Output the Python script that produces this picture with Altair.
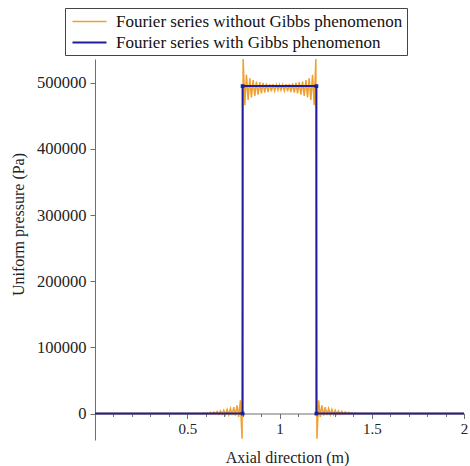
import altair as alt
import pandas as pd

S_OR = "Fourier series without Gibbs phenomenon"
S_BL = "Fourier series with Gibbs phenomenon"

# Orange (oscillating) series
orange_x = [0.000, 0.580, 0.590, 0.599, 0.608, 0.617, 0.626, 0.635, 0.644, 0.653,
            0.662, 0.671, 0.680, 0.689, 0.698, 0.707, 0.716, 0.725, 0.734, 0.743,
            0.752, 0.761, 0.770, 0.779, 0.788, 0.797,
            0.803, 0.812, 0.821, 0.830, 0.839, 0.848, 0.857, 0.866, 0.875, 0.884,
            0.893, 0.902, 0.911, 0.920, 0.929, 0.938, 0.947, 0.956, 0.965, 0.974,
            0.983, 0.992, 1.000,
            1.008, 1.017, 1.026, 1.035, 1.044, 1.053, 1.062, 1.071, 1.080, 1.089,
            1.098, 1.107, 1.116, 1.125, 1.134, 1.143, 1.152, 1.161, 1.170, 1.179,
            1.188, 1.197,
            1.203, 1.212, 1.221, 1.230, 1.239, 1.248, 1.257, 1.266, 1.275, 1.284,
            1.293, 1.302, 1.311, 1.320, 1.329, 1.338, 1.347, 1.356, 1.365, 1.374,
            1.383, 1.392, 1.401, 1.410, 1.420, 2.000]
orange_y = [0, 0, 600, -200, 1200, -300, 1800, -500, 2500, -700,
            3200, -900, 4000, -1100, 5000, -1400, 6200, -1800, 7600, -2300,
            9500, -3000, 12500, -5000, 20000, -38000,
            536000, 466000, 512000, 474000, 507000, 478000, 504000, 480000, 502000, 482000,
            501000, 484000, 500000, 485000, 499000, 486000, 498000, 487000, 498000, 488000,
            497000, 489000, 497000,
            489000, 497000, 488000, 498000, 487000, 498000, 486000, 499000, 485000, 500000,
            484000, 501000, 482000, 502000, 480000, 504000, 478000, 507000, 474000, 512000,
            466000, 536000,
            -38000, 20000, -5000, 12500, -3000, 9500, -2300, 7600, -1800, 6200,
            -1400, 5000, -1100, 4000, -900, 3200, -700, 2500, -500, 1800,
            -300, 1200, -200, 600, 0, 0]

# Blue (square pulse) series
blue_x = [0.0, 0.8, 0.8, 1.2, 1.2, 2.0]
blue_y = [0, 0, 495000, 495000, 0, 0]

x_minor_ticks = [0.1, 0.2, 0.3, 0.4, 0.6, 0.7, 0.8, 0.9,
                 1.1, 1.2, 1.3, 1.4, 1.6, 1.7, 1.8, 1.9]
x_major_ticks = [0.5, 1, 1.5, 2]
y_ticks = [0, 50000, 100000, 150000, 200000, 250000, 300000, 350000,
           400000, 450000, 500000]

df = pd.concat([
    pd.DataFrame({"x": orange_x, "y": orange_y, "series": S_OR,
                  "idx": range(len(orange_x))}),
    pd.DataFrame({"x": blue_x, "y": blue_y, "series": S_BL,
                  "idx": range(len(blue_x))}),
], ignore_index=True)

FONT = "Liberation Serif, Times New Roman, Times, serif"
AXC = "#6e6e6e"
TXT = "#222222"

xscale = alt.Scale(domain=[0, 2], nice=False, zero=False)
yscale = alt.Scale(domain=[-40000, 536000], nice=False, zero=False)

x_axis_major = alt.Axis(
    title="Axial direction (m)", values=x_major_ticks, grid=False, orient="bottom",
    offset=-26.5, domainColor=AXC, tickColor=AXC, tickSize=5,
    format="~g", labelOverlap=False,
    labelFont=FONT, labelFontSize=15, labelColor=TXT,
    labelPadding=3, labelFlush=False,
    titleFont=FONT, titleFontSize=16, titleFontWeight="normal",
    titleColor=TXT, titleX=192, titleY=44, titleBaseline="middle")

x_axis_minor = alt.Axis(
    title=None, values=x_minor_ticks, grid=False, labels=False, orient="bottom",
    offset=-26.5, domain=False, tickColor=AXC, tickSize=3)

y_axis = alt.Axis(
    title="Uniform pressure (Pa)", values=y_ticks, grid=False,
    domainColor=AXC, tickColor=AXC,
    tickSize={"condition": {"test": "datum.value % 100000 === 0", "value": 5},
              "value": 3},
    labelExpr="datum.value % 100000 === 0 ? format(datum.value, 'd') : ''",
    labelOverlap=False,
    labelFont=FONT, labelFontSize=16.5, labelColor=TXT,
    labelPadding=4, labelFlush=False,
    titleFont=FONT, titleFontSize=16, titleFontWeight="normal",
    titleColor=TXT, titleX=-77, titleY=165,
    titleBaseline="middle", titleAngle=270)

color_enc = alt.Color("series:N",
                      scale=alt.Scale(domain=[S_OR, S_BL], range=["#F0A030", "#1E1E96"]),
                      legend=alt.Legend(
                          title=None, orient="none", legendX=-30, legendY=-51,
                          strokeColor="#444444", fillColor="white", padding=4,
                          symbolType="M-2,0H2", symbolSize=289, symbolStrokeWidth=2,
                          symbolOffset=11,
                          labelFont=FONT, labelFontSize=17, labelColor="#111111",
                          labelOffset=17, rowPadding=3, labelLimit=400))

lines = alt.Chart(df).mark_line(clip=True).encode(
    x=alt.X("x:Q", scale=xscale, axis=x_axis_major),
    y=alt.Y("y:Q", scale=yscale, axis=y_axis),
    color=color_enc,
    order="idx:Q",
    strokeWidth=alt.StrokeWidth("series:N", scale=alt.Scale(domain=[S_OR, S_BL], range=[1.5, 2]),
                                legend=None),
)

corners = alt.Chart(df).transform_filter(
    (alt.datum.series == S_BL) & (alt.datum.idx >= 1) & (alt.datum.idx <= 4)
).mark_point(filled=True, shape="square", size=14, color="#1E1E96", opacity=1).encode(
    x=alt.X("x:Q", scale=xscale, axis=x_axis_minor),
    y=alt.Y("y:Q", scale=yscale))

chart = alt.layer(lines, corners).resolve_axis(x="independent").properties(
    width=369, height=381,
    padding={"left": 95, "top": 59, "right": 6, "bottom": 26},
    autosize=alt.AutoSizeParams(type="none"),
    background="white",
).configure_view(stroke=None)

chart.save("out.html", embed_options={"renderer": "svg", "actions": False})
